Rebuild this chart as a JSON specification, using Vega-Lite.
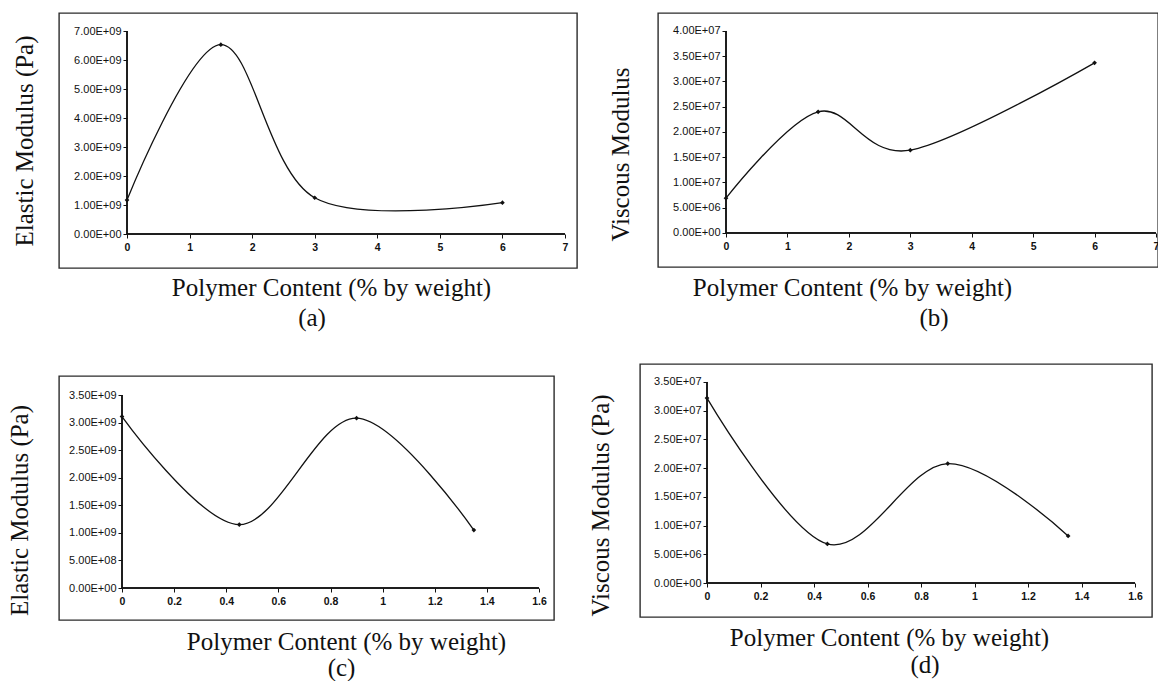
{
  "$schema": "https://vega.github.io/schema/vega-lite/v6.json",
  "background": "white",
  "padding": {"left": 6, "top": 12, "right": 0, "bottom": 0},
  "config": {
    "view": {"stroke": "#2b2b2b", "strokeWidth": 1.4},
    "axis": {
      "grid": false,
      "domain": false,
      "tickColor": "#111",
      "tickSize": 4,
      "tickWidth": 1,
      "labelColor": "#111",
      "labelFont": "Liberation Sans",
      "titleFont": "Liberation Serif",
      "titleFontSize": 25,
      "titleFontWeight": "normal",
      "titleColor": "#111"
    },
    "axisX": {"labelFontSize": 10.5, "labelFontWeight": "bold", "labelPadding": 4},
    "axisY": {"labelFontSize": 11, "labelPadding": 2},
    "title": {
      "font": "Liberation Serif",
      "fontSize": 25,
      "fontWeight": "normal",
      "color": "#111",
      "orient": "bottom",
      "frame": "group",
      "anchor": "middle"
    }
  },
  "datasets": {
    "a": [
      {"content": 0, "modulus": 1170000000},
      {"content": 1.5, "modulus": 6530000000},
      {"content": 3, "modulus": 1250000000},
      {"content": 6, "modulus": 1080000000}
    ],
    "b": [
      {"content": 0, "modulus": 6900000},
      {"content": 1.5, "modulus": 24000000},
      {"content": 3, "modulus": 16400000},
      {"content": 6, "modulus": 33700000}
    ],
    "c": [
      {"content": 0, "modulus": 3110000000},
      {"content": 0.45, "modulus": 1150000000},
      {"content": 0.9, "modulus": 3080000000},
      {"content": 1.35, "modulus": 1050000000}
    ],
    "d": [
      {"content": 0, "modulus": 32200000},
      {"content": 0.45, "modulus": 6800000},
      {"content": 0.9, "modulus": 20800000},
      {"content": 1.35, "modulus": 8200000}
    ]
  },
  "spacing": 31,
  "vconcat": [
    {
      "bounds": "flush",
      "spacing": 81,
      "hconcat": [
        {
          "width": 518,
          "height": 255,
          "data": {"name": "a"},
          "title": {"text": "(a)", "dx": -6, "offset": 5},
          "encoding": {
            "x": {
              "field": "content", "type": "quantitative",
              "scale": {"domain": [-1.0868, 7.1918], "nice": false, "zero": false},
              "axis": {"title": "Polymer Content (% by weight)", "values": [0, 1, 2, 3, 4, 5, 6, 7], "format": "~g", "offset": -34, "titleX": 272, "titlePadding": 23}
            },
            "y": {
              "field": "modulus", "type": "quantitative",
              "scale": {"domain": [-1172400000, 7620700000], "nice": false, "zero": false},
              "axis": {
                "title": "Elastic Modulus (Pa)",
                "values": [0, 1000000000, 2000000000, 3000000000, 4000000000, 5000000000, 6000000000, 7000000000],
                "labelExpr": "datum.value == 0 ? '0.00E+00' : format(datum.value / pow(10, floor(log(datum.value) / LN10 + 1e-9)), '.2f') + 'E+' + pad(toString(floor(log(datum.value) / LN10 + 1e-9)), 2, '0', 'left')",
                "offset": -68, "titlePadding": 36
              }
            }
          },
          "layer": [
            {"mark": {"type": "rule", "color": "#111", "strokeWidth": 1}, "encoding": {"x": {"datum": 0}, "x2": {"datum": 7}, "y": {"datum": 0}}},
            {"mark": {"type": "rule", "color": "#111", "strokeWidth": 1}, "encoding": {"x": {"datum": 0}, "y": {"datum": 0}, "y2": {"datum": 7000000000}}},
            {"mark": {"type": "line", "interpolate": "cardinal", "tension": 0, "color": "#111", "strokeWidth": 1.3}},
            {"mark": {"type": "point", "shape": "diamond", "filled": true, "size": 22, "color": "#111", "opacity": 1}}
          ]
        },
        {
          "width": 500,
          "height": 254,
          "data": {"name": "b"},
          "title": {"text": "(b)", "dx": 26, "offset": 5},
          "encoding": {
            "x": {
              "field": "content", "type": "quantitative",
              "scale": {"domain": [-1.107, 7.0326], "nice": false, "zero": false},
              "axis": {"title": "Polymer Content (% by weight)", "values": [0, 1, 2, 3, 4, 5, 6, 7], "format": "~g", "offset": -34, "titleX": 194, "titlePadding": 24}
            },
            "y": {
              "field": "modulus", "type": "quantitative",
              "scale": {"domain": [-6733000, 43564000], "nice": false, "zero": false},
              "axis": {
                "title": "Viscous Modulus",
                "values": [0, 5000000, 10000000, 15000000, 20000000, 25000000, 30000000, 35000000, 40000000],
                "labelExpr": "datum.value == 0 ? '0.00E+00' : format(datum.value / pow(10, floor(log(datum.value) / LN10 + 1e-9)), '.2f') + 'E+' + pad(toString(floor(log(datum.value) / LN10 + 1e-9)), 2, '0', 'left')",
                "offset": -68, "titlePadding": 39, "titleY": 141
              }
            }
          },
          "layer": [
            {"mark": {"type": "rule", "color": "#111", "strokeWidth": 1}, "encoding": {"x": {"datum": 0}, "x2": {"datum": 7}, "y": {"datum": 0}}},
            {"mark": {"type": "rule", "color": "#111", "strokeWidth": 1}, "encoding": {"x": {"datum": 0}, "y": {"datum": 0}, "y2": {"datum": 40000000}}},
            {"mark": {"type": "line", "interpolate": "cardinal", "tension": 0, "color": "#111", "strokeWidth": 1.3}},
            {"mark": {"type": "point", "shape": "diamond", "filled": true, "size": 22, "color": "#111", "opacity": 1}}
          ]
        }
      ]
    },
    {
      "spacing": 32,
      "hconcat": [
        {
          "bounds": "flush",
          "spacing": 11,
          "vconcat": [
            {"data": {"values": []}, "mark": "point", "width": 495, "height": 1, "view": {"stroke": null}},
            {
              "width": 495,
              "height": 244,
              "data": {"name": "c"},
              "title": {"text": "(c)", "dx": 35, "offset": 1},
              "encoding": {
                "x": {
                  "field": "content", "type": "quantitative",
                  "scale": {"domain": [-0.24173, 1.65755], "nice": false, "zero": false},
                  "axis": {"title": "Polymer Content (% by weight)", "values": [0, 0.2, 0.4, 0.6, 0.8, 1, 1.2, 1.4, 1.6], "format": "~g", "offset": -32, "titleX": 287, "titlePadding": 23}
                },
                "y": {
                  "field": "modulus", "type": "quantitative",
                  "scale": {"domain": [-580300000, 3844600000], "nice": false, "zero": false},
                  "axis": {
                    "title": "Elastic Modulus (Pa)",
                    "values": [0, 500000000, 1000000000, 1500000000, 2000000000, 2500000000, 3000000000, 3500000000],
                    "labelExpr": "datum.value == 0 ? '0.00E+00' : format(datum.value / pow(10, floor(log(datum.value) / LN10 + 1e-9)), '.2f') + 'E+' + pad(toString(floor(log(datum.value) / LN10 + 1e-9)), 2, '0', 'left')",
                    "offset": -63, "titlePadding": 36, "titleY": 134
                  }
                }
              },
              "layer": [
                {"mark": {"type": "rule", "color": "#111", "strokeWidth": 1}, "encoding": {"x": {"datum": 0}, "x2": {"datum": 1.6}, "y": {"datum": 0}}},
                {"mark": {"type": "rule", "color": "#111", "strokeWidth": 1}, "encoding": {"x": {"datum": 0}, "y": {"datum": 0}, "y2": {"datum": 3500000000}}},
                {"mark": {"type": "line", "interpolate": "cardinal", "tension": 0, "color": "#111", "strokeWidth": 1.3}},
                {"mark": {"type": "point", "shape": "diamond", "filled": true, "size": 22, "color": "#111", "opacity": 1}}
              ]
            }
          ]
        },
        {
          "width": 512,
          "height": 253,
          "data": {"name": "d"},
          "title": {"text": "(d)", "dx": 29, "offset": 2},
          "encoding": {
            "x": {
              "field": "content", "type": "quantitative",
              "scale": {"domain": [-0.25047, 1.66355], "nice": false, "zero": false},
              "axis": {"title": "Polymer Content (% by weight)", "values": [0, 0.2, 0.4, 0.6, 0.8, 1, 1.2, 1.4, 1.6], "format": "~g", "offset": -34, "titleX": 249, "titlePadding": 24}
            },
            "y": {
              "field": "modulus", "type": "quantitative",
              "scale": {"domain": [-5920000, 38134000], "nice": false, "zero": false},
              "axis": {
                "title": "Viscous Modulus (Pa)",
                "values": [0, 5000000, 10000000, 15000000, 20000000, 25000000, 30000000, 35000000],
                "labelExpr": "datum.value == 0 ? '0.00E+00' : format(datum.value / pow(10, floor(log(datum.value) / LN10 + 1e-9)), '.2f') + 'E+' + pad(toString(floor(log(datum.value) / LN10 + 1e-9)), 2, '0', 'left')",
                "offset": -67, "titlePadding": 40, "titleY": 141
              }
            }
          },
          "layer": [
            {"mark": {"type": "rule", "color": "#111", "strokeWidth": 1}, "encoding": {"x": {"datum": 0}, "x2": {"datum": 1.6}, "y": {"datum": 0}}},
            {"mark": {"type": "rule", "color": "#111", "strokeWidth": 1}, "encoding": {"x": {"datum": 0}, "y": {"datum": 0}, "y2": {"datum": 35000000}}},
            {"mark": {"type": "line", "interpolate": "cardinal", "tension": 0, "color": "#111", "strokeWidth": 1.3}},
            {"mark": {"type": "point", "shape": "diamond", "filled": true, "size": 22, "color": "#111", "opacity": 1}}
          ]
        }
      ]
    }
  ]
}
